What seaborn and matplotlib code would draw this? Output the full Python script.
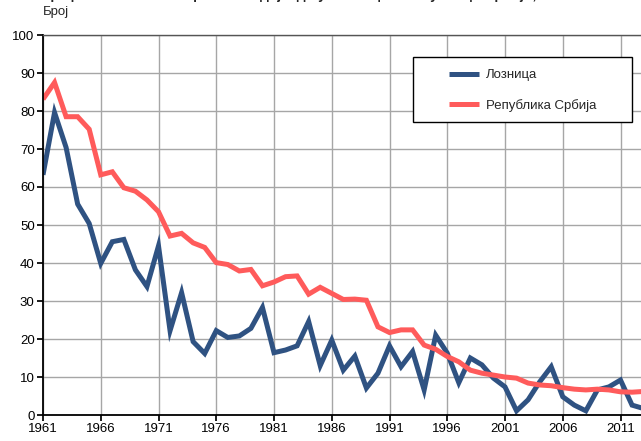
import pandas as pd
import numpy as np
import matplotlib
matplotlib.use("Agg")
import matplotlib.pyplot as plt
from matplotlib.patches import Rectangle
import seaborn as sns

# --- podaci (ocitano sa grafikona) ---
godine = list(range(1961, 2014))

loznica = [63.2, 79.6, 70.4, 55.5, 50.4, 39.9, 45.6, 46.2, 38.2, 33.8,
           44.5, 22.2, 32.2, 19.3, 16.2, 22.2, 20.4, 20.8, 22.8, 28.3,
           16.4, 17.1, 18.2, 24.6, 13.0, 19.7, 11.8, 15.5, 7.1, 11.0,
           18.2, 12.7, 16.7, 6.6, 21.0, 16.3, 8.5, 15.0, 13.2, 9.7,
           7.4, 1.1, 4.0, 8.7, 12.7, 4.8, 2.6, 1.1, 6.6, 7.4,
           9.2, 2.6, 1.7]

srbija = [83.1, 87.5, 78.5, 78.5, 75.2, 63.2, 64.0, 59.8, 58.9, 56.6,
          53.5, 47.1, 47.8, 45.3, 44.1, 40.1, 39.6, 37.9, 38.3, 34.0,
          35.0, 36.4, 36.6, 31.8, 33.6, 32.0, 30.4, 30.5, 30.2, 23.2,
          21.7, 22.4, 22.4, 18.4, 17.3, 15.4, 14.0, 11.8, 11.0, 10.5,
          10.0, 9.7, 8.4, 7.9, 7.7, 7.2, 6.8, 6.6, 6.8, 6.6,
          6.1, 6.0, 6.2]

nazivi = ["Лозница", "Република Србија"]
boje = ["#2f5282", "#ff5b5b"]

df = pd.DataFrame({"godina": godine * 2,
                   "vrednost": loznica + srbija,
                   "serija": [nazivi[0]] * len(godine) + [nazivi[1]] * len(godine)})

# --- izgled ---
sns.set_theme(style="whitegrid")
plt.rcParams["font.family"] = ["Liberation Sans", "DejaVu Sans"]

fig = plt.figure(figsize=(6.41, 4.41), dpi=100)
ax = fig.add_axes([43 / 641, 1 - 415 / 441, 1 - 43 / 641, (415 - 35) / 441])

sns.lineplot(data=df, x="godina", y="vrednost", hue="serija",
             palette=dict(zip(nazivi, boje)), linewidth=3.6, ax=ax,
             solid_joinstyle="miter", solid_capstyle="butt")

ax.set_xlim(1961, 1961 + (641 - 43) / 11.55)
ax.set_ylim(0, 100)
ax.set_xticks(range(1961, 2013, 5))
ax.set_yticks(range(0, 101, 10))
ax.set_xlabel("")
ax.set_ylabel("")
ax.tick_params(axis="both", labelsize=9.5, colors="black", length=4,
               direction="out", pad=2)
ax.tick_params(axis="x", bottom=True)
ax.tick_params(axis="y", left=True)

ax.set_facecolor("white")
ax.grid(True, color="#a6a6a6", linewidth=1.0)
for s in ["left", "bottom"]:
    ax.spines[s].set_color("black")
    ax.spines[s].set_linewidth(1.3)
ax.spines["top"].set_color("#555555")
ax.spines["top"].set_linewidth(1.0)
ax.spines["right"].set_visible(False)

# okvir legende i legenda bez okvira (vise prostora levo od linija)
okvir = Rectangle((0.619, 0.771), 0.366, 0.171, transform=ax.transAxes,
                  facecolor="white", edgecolor="black", linewidth=1.0, zorder=4)
ax.add_patch(okvir)
leg = ax.legend(loc="upper left", bbox_to_anchor=((449 - 43) / 598, (415 - 69) / 380),
                fontsize=9.5, frameon=False, borderpad=0, borderaxespad=0,
                labelspacing=1.35, handlelength=2.3, handletextpad=0.5)
leg.set_zorder(5)

fig.text(43 / 641, 1 - 18 / 441, "Број", fontsize=9.5, ha="left", va="bottom")
fig.text(43 / 641, 1 + 1 / 441,
         "Графикон 5. Стопа смртности одојчади у Лозници и Републици Србији, 1961-2013",
         fontsize=10, fontweight="bold", ha="left", va="baseline")

fig.savefig("out.png", dpi=100)
